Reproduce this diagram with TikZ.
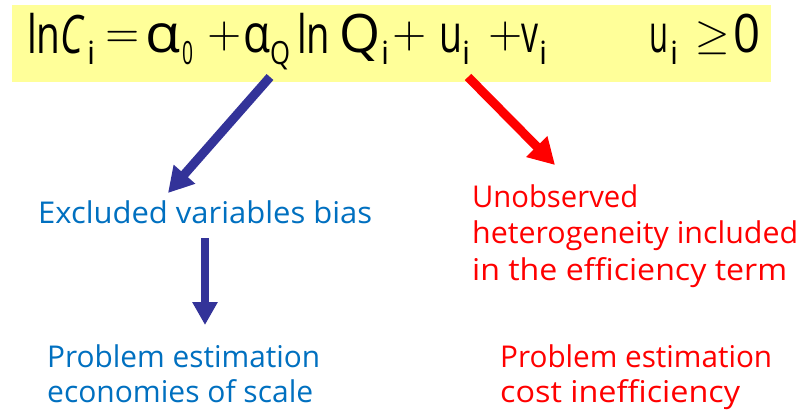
\documentclass[tikz,border=0pt]{standalone}
\usepackage{fontspec}
\setmainfont{Open Sans}
\newfontfamily\opfont{Latin Modern Math}
\usepackage{graphicx}
\usetikzlibrary{arrows.meta}
\definecolor{boxyellow}{HTML}{FFFF99}
\definecolor{arrowblue}{HTML}{333399}
\definecolor{textblue}{HTML}{0070C0}
\definecolor{textred}{HTML}{FF0000}
\newcommand{\fitw}[2]{\resizebox{#1}{\height}{#2}}
\begin{document}
\begin{tikzpicture}[x=1pt,y=-1pt,
  lbl/.style={anchor=base west, inner sep=0pt, font=\fontsize{30}{36}\selectfont},
  eq/.style={anchor=base west, inner sep=0pt, font=\fontsize{53}{60}\selectfont},
  sub/.style={anchor=base west, inner sep=0pt, font=\fontsize{32}{36}\selectfont},
  op/.style={anchor=center, inner sep=0pt, font=\opfont\fontsize{44}{50}\selectfont},
  bluearrow/.style={draw=arrowblue, line width=9pt, -{Triangle[length=25pt,width=27pt]}},
  bluearrowv/.style={draw=arrowblue, line width=8pt, -{Triangle[length=23pt,width=24pt]}},
  redarrow/.style={draw=textred, line width=9pt, -{Triangle[length=26pt,width=28pt]}}
]
\useasboundingbox (0,0) rectangle (804,412);
\fill[white] (0,0) rectangle (804,412);
% formula box
\fill[boxyellow] (12,5) rectangle (771,82);
\node[eq] (ln1) at (27,53) {\fitw{58pt}{ln\textit{C}}};
\node[sub] (s1) at (87,65) {i};
\node[op] (eqs) at (123,39) {=};
\node[eq] (a0) at (145,53) {\fitw{35pt}{α}};
\node[sub] (s2) at (182,65) {\fitw{11pt}{0}};
\node[op] (p1) at (225,37) {+};
\node[eq] (aQ) at (243,53) {\fitw{27pt}{α}};
\node[sub] (s3) at (270,65) {\fitw{20pt}{Q}};
\node[eq] (ln2) at (297,53) {\fitw{33pt}{ln}};
\node[eq] (Q) at (339,53) {\fitw{41pt}{Q}};
\node[sub] (s4) at (381,65) {i};
\node[op] (p2) at (410,37) {+};
\node[eq] (u1) at (439,53) {\fitw{23pt}{u}};
\node[sub] (s5) at (462,65) {i};
\node[op] (p3) at (506,37) {+};
\node[eq] (v1) at (521,53) {\fitw{17pt}{v}};
\node[sub] (s6) at (539,65) {i};
\node[eq] (u2) at (649,53) {\fitw{19pt}{u}};
\node[sub] (s7) at (670,65) {i};
\node[op] (geq) at (713,38) {≥};
\node[eq] (zero) at (733,53) {\fitw{27pt}{0}};
% labels
\node[lbl, text=textblue] (excl) at (38,223) {\fitw{334pt}{Excluded variables bias}};
\node[lbl, text=textred] (un1) at (472,207) {\fitw{166pt}{Unobserved}};
\node[lbl, text=textred] (un2) at (472,243) {\fitw{326pt}{heterogeneity included}};
\node[lbl, text=textred] (un3) at (472,280) {\fitw{315pt}{in the efficiency term}};
\node[lbl, text=textblue] (pb1) at (47,367) {\fitw{273pt}{Problem estimation}};
\node[lbl, text=textblue] (pb2) at (47,402) {\fitw{266pt}{economies of scale}};
\node[lbl, text=textred] (pr1) at (500,367) {\fitw{272pt}{Problem estimation}};
\node[lbl, text=textred] (pr2) at (500,402) {\fitw{240pt}{cost inefficiency}};
% arrows
\coordinate (b1) at (270,77);
\coordinate (b2) at (168,193);
\coordinate (r1) at (468,77);
\coordinate (r2) at (555,165);
\coordinate (v1s) at (205,238);
\coordinate (v1e) at (205,325);
\draw[bluearrow] (b1) -- (b2);
\draw[redarrow] (r1) -- (r2);
\draw[bluearrowv] (v1s) -- (v1e);
\end{tikzpicture}
\end{document}
